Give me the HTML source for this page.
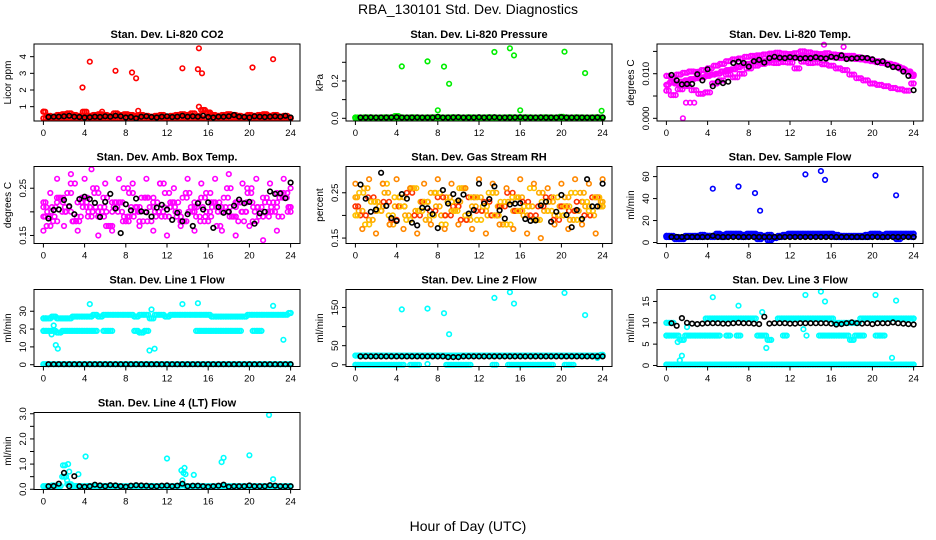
<!DOCTYPE html>
<html><head><meta charset="utf-8">
<style>
body{margin:0;background:#fff;}
svg{display:block;font-family:"Liberation Sans",Arial,sans-serif;}
</style></head>
<body>
<svg id="chart" width="936" height="540" viewBox="0 0 936 540" xmlns="http://www.w3.org/2000/svg">
<rect width="936" height="540" fill="#fff"/>
<text x="468" y="14" text-anchor="middle" font-size="14">RBA_130101  Std. Dev. Diagnostics</text>
<text x="468" y="531" text-anchor="middle" font-size="14">Hour of Day (UTC)</text>
</svg>
<script>
// ---- data (hours 0..24, evenly spaced per array) ----
const xTicks=[0,4,8,12,16,20,24];
// CO2
const co2Red1=[0.7,0.45,0.4,0.5,0.55,0.6,0.5,0.45,0.7,0.45,0.5,0.55,0.5,0.45,0.6,0.5,0.55,0.5,0.45,0.5,0.45,0.4,0.45,0.5,0.35,0.45,0.5,0.55,0.5,0.6,0.45,0.8,0.65,0.5,0.45,0.5,0.55,0.5,0.45,0.4,0.5,0.45,0.5,0.55,0.45,0.5,0.4,0.45,0.3];
const co2Red2=[0.3,0.35,0.32,0.3,0.35,0.3,0.32,0.35,0.3,0.33,0.3,0.35,0.3,0.32,0.3,0.35,0.3,0.32,0.3,0.35,0.3,0.3,0.32,0.35,0.3,0.33,0.3,0.35,0.3,0.32,0.3,0.35,0.3,0.32,0.3,0.35,0.3,0.3,0.32,0.35,0.3];
const co2Black=[null,0.38,0.4,0.4,0.42,0.45,0.4,0.38,0.35,0.37,0.4,0.38,0.42,0.4,0.45,0.42,0.35,0.38,0.3,0.4,0.42,0.38,0.35,0.4,0.42,0.38,0.4,0.45,0.4,0.42,0.4,0.45,0.38,0.35,0.4,0.4,0.42,0.5,0.4,0.38,0.35,0.42,0.4,0.38,0.4,0.42,0.4,0.45,0.35];
const co2OutX=[3.8,4.5,7,8.6,9,13.5,15,15.1,15.4,20.3,22.3,0,15.1,9.2,5.7,16.2];
const co2OutY=[2.15,3.7,3.15,3.05,2.7,3.3,3.25,4.5,3.0,3.35,3.85,0.7,1.0,0.75,0.7,0.6];
// Pressure
const prGreen1=[0.004,0.003,0.005,0.004,0.003,0.004,0.005,0.003,0.012,0.004,0.003,0.005,0.004,0.003,0.004,0.005,0.006,0.003,0.004,0.005,0.004,0.003,0.005,0.004,0.003,0.004,0.005,0.004,0.003,0.004,0.005,0.004,0.003,0.005,0.004,0.003,0.004,0.005,0.004,0.003,0.008,0.004,0.003,0.005,0.004,0.003,0.004,0.005,0.004];
const prGreen2=[0.001,0.002,0.001,0.0,0.001,0.002,0.001,0.0,0.001,0.002,0.001,0.0,0.001,0.002,0.001,0.0,0.001,0.002,0.001,0.0,0.001,0.002,0.001,0.0,0.001,0.002,0.001,0.0,0.001,0.002,0.001,0.0,0.001,0.002,0.001,0.0,0.001,0.002,0.001,0.0,0.001];
const prBlack=[null,0.004,0.004,0.005,0.004,0.004,0.004,0.005,0.006,0.004,0.004,0.004,0.005,0.004,0.004,0.004,0.008,0.004,0.004,0.005,0.006,0.004,0.004,0.004,0.006,0.004,0.005,0.006,0.004,0.004,0.004,0.005,0.006,0.004,0.004,0.004,0.005,0.004,0.004,0.004,0.006,0.004,0.004,0.004,0.004,0.004,0.004,0.005,0.004];
const prOutX=[4.5,7,8.6,9.1,8.0,13.5,15,15.4,16,20.3,22.3,23.9];
const prOutY=[0.278,0.305,0.277,0.185,0.043,0.355,0.375,0.337,0.043,0.357,0.242,0.04];
// Li-820 temp
const tpMag1=[0.0075,0.008,0.0078,0.0082,0.0085,0.0088,0.009,0.0092,0.0095,0.0098,0.01,0.0105,0.0108,0.011,0.0115,0.012,0.0122,0.0125,0.0127,0.0128,0.013,0.0132,0.0133,0.0134,0.0135,0.0136,0.0137,0.0137,0.0138,0.0138,0.0138,0.0137,0.0137,0.0136,0.0135,0.0135,0.0134,0.0133,0.0132,0.013,0.0128,0.0126,0.0124,0.0122,0.012,0.0115,0.011,0.0105,0.0095];
const tpMag2=[0.0095,0.0092,0.0098,0.0102,0.0105,0.0104,0.0108,0.0112,0.0118,0.0122,0.0128,0.0132,0.0134,0.0138,0.014,0.0141,0.0143,0.0145,0.0147,0.0145,0.0144,0.0146,0.015,0.0148,0.0145,0.0144,0.0146,0.0143,0.0142,0.014,0.014,0.0137,0.0135,0.0132,0.0128,0.0125,0.0122,0.0118,0.0112,0.0105,0.0098];
const tpMag3=[0.0062,0.0052,0.0065,0.0072,0.0063,0.0055,0.0058,0.0078,0.0085,0.0098,0.0092,0.01,0.0112,0.0118,0.0122,0.0125,0.0124,0.0126,0.0125,0.0112,0.0127,0.0124,0.0125,0.0121,0.0118,0.0112,0.0108,0.0098,0.009,0.0085,0.0078,0.0075,0.0072,0.0068,0.0065,0.0062,0.0078];
const tpBlack=[null,0.0097,0.0085,0.0076,0.0077,0.0077,0.0099,0.0085,0.011,0.0072,0.0082,0.0079,0.0082,0.0124,0.0127,0.0124,0.0116,0.0128,0.0131,0.0125,0.0135,0.0138,0.0136,0.0135,0.0137,0.0136,0.0134,0.0135,0.0135,0.0137,0.0135,0.0134,0.0138,0.0136,0.0141,0.0133,0.0134,0.0135,0.0136,0.0135,0.0132,0.0126,0.0128,0.012,0.0115,0.0114,0.0105,0.0095,0.0063];
const tpOutX=[1.6,1.9,2.3,2.7,15.3,17.2];
const tpOutY=[0.0,0.0035,0.0035,0.0035,0.0165,0.016];
// Amb box temp
const abMag1=[0.19,0.17,0.21,0.23,0.2,0.24,0.18,0.22,0.21,0.19,0.25,0.2,0.23,0.17,0.21,0.22,0.19,0.24,0.2,0.18,0.23,0.21,0.2,0.26,0.19,0.22,0.2,0.18,0.24,0.21,0.19,0.23,0.2,0.22,0.17,0.21,0.25,0.19,0.22,0.2,0.24,0.18,0.21,0.23,0.2,0.22,0.19,0.24,0.21];
const abMag2=[0.22,0.2,0.18,0.23,0.21,0.26,0.19,0.22,0.2,0.24,0.21,0.17,0.22,0.2,0.25,0.19,0.21,0.23,0.18,0.22,0.2,0.24,0.21,0.19,0.23,0.2,0.22,0.18,0.24,0.21,0.2,0.23,0.19,0.22,0.2,0.25,0.21,0.19,0.22,0.2,0.24,0.23,0.21];
const abMag3=[0.16,0.24,0.27,0.17,0.28,0.16,0.27,0.29,0.15,0.26,0.16,0.27,0.18,0.26,0.17,0.27,0.16,0.26,0.15,0.25,0.17,0.27,0.16,0.26,0.18,0.27,0.16,0.28,0.15,0.26,0.17,0.27,0.14,0.26,0.16,0.27,0.25];
const abMag4=[0.21,0.19,0.22,0.2,0.18,0.23,0.21,0.19,0.2,0.22,0.18,0.21,0.2,0.23,0.19,0.21,0.22,0.18,0.2,0.21,0.19,0.22,0.2,0.21,0.18,0.22,0.2,0.19,0.21,0.23,0.2];
const abBlack=[null,0.186,0.204,0.205,0.225,0.212,0.195,0.227,0.232,0.227,0.219,0.189,0.221,0.238,0.207,0.155,0.216,0.203,0.228,0.201,0.199,0.19,0.209,0.215,0.205,0.183,0.198,0.18,0.195,0.17,0.218,0.205,0.22,0.166,0.21,0.198,0.2,0.213,0.226,0.218,0.221,0.175,0.197,0.2,0.243,0.238,0.239,0.229,0.262];
// Gas stream RH
const rhOr1=[0.24,0.21,0.26,0.19,0.23,0.22,0.25,0.18,0.22,0.24,0.2,0.26,0.21,0.23,0.19,0.25,0.22,0.2,0.24,0.21,0.23,0.26,0.19,0.22,0.24,0.21,0.2,0.25,0.22,0.18,0.23,0.21,0.24,0.2,0.22,0.19,0.25,0.21,0.23,0.2,0.22,0.24,0.19,0.21,0.25,0.22,0.2,0.24,0.23];
const rhOr2=[0.2,0.25,0.18,0.23,0.21,0.27,0.2,0.24,0.22,0.19,0.26,0.21,0.23,0.2,0.25,0.18,0.23,0.21,0.26,0.2,0.24,0.19,0.22,0.25,0.2,0.23,0.18,0.24,0.21,0.22,0.26,0.19,0.23,0.21,0.24,0.2,0.22,0.25,0.19,0.23,0.21,0.24,0.22];
const rhOr3=[0.27,0.17,0.28,0.16,0.27,0.18,0.28,0.17,0.26,0.16,0.27,0.18,0.28,0.17,0.27,0.18,0.26,0.17,0.28,0.16,0.27,0.18,0.26,0.17,0.28,0.16,0.27,0.15,0.26,0.18,0.27,0.17,0.28,0.18,0.27,0.16,0.28];
const rhRed1=[0.22,0.2,0.24,0.21,0.23,0.19,0.22,0.25,0.2,0.23,0.21,0.24,0.2,0.22,0.19,0.24,0.21,0.23,0.2,0.22,0.25,0.21,0.23,0.2,0.22,0.24,0.19,0.22,0.21,0.23,0.2,0.24,0.22];
const rhBlack=[null,0.268,0.237,0.208,0.213,0.294,0.221,0.194,0.188,0.247,0.237,0.184,0.178,0.217,0.216,0.203,0.172,0.256,0.226,0.247,0.233,0.246,0.204,0.212,0.27,0.226,0.236,0.264,0.211,0.193,0.224,0.226,0.227,0.192,0.188,0.189,0.222,0.23,0.186,0.208,0.245,0.201,0.174,0.212,0.192,0.28,0.22,0.22,0.27];
// Sample flow
const sfBlue1=[6,6,5,4,6,6,6,7,6,6,8,7,8,8,8,7,8,8,7,6,7,5,6,7,8,8,8,8,8,8,8,8,8,7,6,6,6,6,6,7,8,8,7,8,8,8,8,8,8];
const sfBlue2=[5,5,3,3,5,5,5,5,6,5,6,5,6,6,6,5,6,6,3,5,2,4,5,6,6,6,6,6,6,6,6,6,6,5,5,5,5,5,5,5,6,6,5,6,6,3,6,6,5];
const sfBlack=[null,5,5,5,5,5,5,5,5,6,5,5,5,5,5,5,5,5,5,5,5,5,5,5,5,5,5,5,5,5,5,5,5,5,5,5,5,5,5,5,5,5,5,5,5,5,5,5,5];
const sfOutX=[4.5,7,8.6,9.1,13.5,15,15.4,20.3,22.3];
const sfOutY=[49,51,45,29,62,65,57,61,43];
// Line 1 flow
const l1Top=[26,26,27,26,26,26,27,27,27,27,28,27,28,28,28,28,28,28,27,28,28,26,28,28,27,28,28,28,28,28,28,28,28,27,27,27,27,27,27,27,28,28,28,28,28,28,28,28,29];
const l1Mid=[19,19,19,18,19,19,19,19,19,19,19,null,19,19,null,null,null,null,19,18,19,null,null,null,null,null,null,null,null,null,19,19,19,19,19,19,19,19,19,null,null,19,19,null,null,null,null,null,null];
const l1Zero=[0.3,0.3,0.3,0.3,0.3,0.3,0.3,0.3,0.3,0.3,0.3,0.3,0.3,0.3,0.3,0.3,0.3,0.3,0.3,0.3,0.3,0.3,0.3,0.3,0.3,0.3,0.3,0.3,0.3,0.3,0.3,0.3,0.3,0.3,0.3,0.3,0.3,0.3,0.3,0.3,0.3,0.3,0.3,0.3,0.3,0.3,0.3,0.3,0.3];
const l1Black=[null,0.3,0.3,0.3,0.3,0.3,0.3,0.3,0.3,0.3,0.3,0.3,0.3,0.3,0.3,0.3,0.3,0.3,0.3,0.3,0.3,0.3,0.3,0.3,0.3,0.3,0.3,0.3,0.3,0.3,0.3,0.3,0.3,0.3,0.3,0.3,0.3,0.3,0.3,0.3,0.3,0.3,0.3,0.3,0.3,0.3,0.3,0.3,0.3];
const l1OutX=[4.5,13.5,15,22.3,1,1.2,1.4,10.3,10.8,23.3,0.8,10.5,0.2];
const l1OutY=[34,34,34.5,33,22,11,9,8,9,14,17,31,26];
// Line 2 flow
const l2Top=[24,24,24,24,24,24,24,24,24,24,24,24,24,24,24,24,24,24,24,24,24,24,24,24,24,24,24,24,24,24,24,24,24,24,24,24,24,24,24,24,24,24,24,24,24,24,24,24,26];
const l2Zero=[0,0,0,0,0,0,0,0,0,0,null,0,0,null,null,null,null,null,0,0,0,0,0,null,null,null,null,0,null,null,0,0,0,0,0,0,0,0,0,null,null,0,0,null,null,null,null,null,null];
const l2Black=[null,22,22,22,22,22,22,22,22,22,22,22,22,22,22,22,22,22,20,20,20,22,22,22,22,22,22,22,22,22,22,22,22,22,22,22,22,22,22,22,22,22,22,22,22,22,22,22,22];
const l2OutX=[4.5,7,8.6,9.1,13.5,15,15.4,20.3,22.3,7,23.5];
const l2OutY=[145,147,135,80,175,190,160,188,130,2,18];
// Line 3 flow
const l3Top=[10,10,null,null,null,null,null,null,11,11,11,11,11,11,11,11,11,11,null,null,null,null,11,11,11,11,11,11,11,11,11,11,11,10,10,10,10,10,11,11,11,11,11,11,11,11,11,11,11];
const l3Mid=[7,7,7,6,7,7,7,7,7,7,7,null,7,null,7,null,null,null,7,7,6,null,null,7,null,null,null,null,null,null,7,7,7,7,7,7,6,7,7,null,null,7,7,null,null,null,null,null,null];
const l3Zero=[0.2,0.2,0.2,0.2,0.2,0.2,0.2,0.2,0.2,0.2,0.2,0.2,0.2,0.2,0.2,0.2,0.2,0.2,0.2,0.2,0.2,0.2,0.2,0.2,0.2,0.2,0.2,0.2,0.2,0.2,0.2,0.2,0.2,0.2,0.2,0.2,0.2,0.2,0.2,0.2,0.2,0.2,0.2,0.2,0.2,0.2,0.2,0.2,0.2];
const l3Black=[null,9.9,9.3,11.1,10,9.8,9.7,9.8,9.9,9.9,9.9,9.8,9.8,9.9,10,9.9,9.9,9.8,9.7,11.4,9.8,9.9,9.9,9.9,9.8,9.8,9.9,9.9,9.9,9.9,9.9,9.9,9.8,9.6,9.7,9.9,10.1,9.9,9.8,9.9,9.7,9.9,9.9,9.9,10.1,9.9,9.8,9.7,9.6];
const l3OutX=[4.5,7,9.3,13.5,15,15.4,20.3,22.3,1.3,1.5,9.7,1.1,21.9,13.6,13.3,2];
const l3OutY=[16,14,12.5,16.5,17.3,15,16.5,15.2,1.2,2.3,4.1,5.5,1.8,7,8.5,9];
// Line 4 flow
const l4Cyan=[0.12,0.12,0.15,0.13,0.5,0.2,0.13,0.12,0.12,0.13,0.12,0.12,0.13,0.12,0.13,0.12,0.12,0.12,0.13,0.12,0.12,0.13,0.12,0.12,0.12,0.12,0.13,0.15,0.12,0.12,0.13,0.12,0.12,0.12,0.12,0.13,0.12,0.12,0.12,0.12,0.12,0.12,0.12,0.12,0.12,0.12,0.12,0.12,0.12];
const l4Black=[null,0.12,0.13,0.22,0.65,0.12,0.52,0.12,0.1,0.12,0.18,0.15,0.12,0.16,0.15,0.12,0.1,0.14,0.16,0.15,0.14,0.12,0.12,0.14,0.15,0.12,0.14,0.22,0.12,0.14,0.14,0.12,0.1,0.12,0.14,0.18,0.1,0.12,0.12,0.12,0.15,0.12,0.12,0.12,0.16,0.14,0.12,0.12,0.12];
const l4OutX=[1.9,2.1,2.4,2.5,2.2,2.3,3.4,4.1,12,13.4,13.6,13.7,13.8,14.6,17.3,17.5,20,21.9,22.3,13.5];
const l4OutY=[0.95,0.95,1.0,0.7,0.5,0.35,0.6,1.3,1.22,0.75,0.65,0.85,0.6,0.57,1.08,1.25,1.35,2.95,0.4,0.35];

// ---- panel layout ----
const NS='http://www.w3.org/2000/svg';
const svg=document.getElementById('chart');
const colX=[34,346,657], rowY=[44,166.5,289.5,412.5], BW=266, BH=77;
// series: [values, colour, sub-samples per bin]
const panels=[
 {name:'co2',title:'Stan. Dev. Li-820 CO2',ylab:'Licor ppm',col:0,row:0,ylim:[0.14,4.76],ticks:[1,2,3,4],labels:['1','2','3','4'],
  series:[[co2Red1,'#ff0000',3],[co2Red2,'#ff0000',3],[co2Black,'#000',1]],out:[[co2OutX,co2OutY,'#ff0000']]},
 {name:'pressure',title:'Stan. Dev. Li-820 Pressure',ylab:'kPa',col:1,row:0,ylim:[-0.0145,0.398],ticks:[0,0.1,0.2,0.3],labels:['0.0','','0.2',''],
  series:[[prGreen1,'#00ee00',3],[prGreen2,'#00ee00',3],[prBlack,'#000',1]],out:[[prOutX,prOutY,'#00ee00']]},
 {name:'temp',title:'Stan. Dev. Li-820 Temp.',ylab:'degrees C',col:2,row:0,ylim:[-0.0006,0.01666],ticks:[0,0.005,0.01,0.015],labels:['0.000','','0.010',''],
  series:[[tpMag1,'#ff00ff',3],[tpMag2,'#ff00ff',3],[tpMag3,'#ff00ff',3],[tpBlack,'#000',1]],out:[[tpOutX,tpOutY,'#ff00ff']]},
 {name:'amb-box',title:'Stan. Dev. Amb. Box Temp.',ylab:'degrees C',col:0,row:1,ylim:[0.133,0.296],ticks:[0.15,0.2,0.25],labels:['0.15','','0.25'],
  series:[[abMag1,'#ff00ff',2],[abMag2,'#ff00ff',2],[abMag3,'#ff00ff',1],[abMag4,'#ff00ff',2],[abBlack,'#000',1]],out:[]},
 {name:'rh',title:'Stan. Dev. Gas Stream RH',ylab:'percent',col:1,row:1,ylim:[0.138,0.308],ticks:[0.15,0.2,0.25],labels:['0.15','','0.25'],
  series:[[rhOr1,'#ffaa00',2],[rhRed1,'#ff3300',2],[rhOr2,'#ffc000',2],[rhOr3,'#ff8800',1],[rhBlack,'#000',1]],out:[]},
 {name:'sample-flow',title:'Stan. Dev. Sample Flow',ylab:'ml/min',col:2,row:1,ylim:[-0.9,69.2],ticks:[0,20,40,60],labels:['0','20','40','60'],
  series:[[sfBlue1,'#0000ff',3],[sfBlue2,'#0000ff',3],[sfBlack,'#000',1]],out:[[sfOutX,sfOutY,'#0000ff']]},
 {name:'line1',title:'Stan. Dev. Line 1 Flow',ylab:'ml/min',col:0,row:2,ylim:[-1,42.2],ticks:[0,10,20,30],labels:['0','10','20','30'],
  series:[[l1Top,'#00ffff',3],[l1Mid,'#00ffff',3],[l1Zero,'#00ffff',3],[l1Black,'#000',1]],out:[[l1OutX,l1OutY,'#00ffff']]},
 {name:'line2',title:'Stan. Dev. Line 2 Flow',ylab:'ml/min',col:1,row:2,ylim:[-4.5,197],ticks:[0,50,100,150],labels:['0','50','','150'],
  series:[[l2Top,'#00ffff',3],[l2Zero,'#00ffff',3],[l2Black,'#000',1]],out:[[l2OutX,l2OutY,'#00ffff']]},
 {name:'line3',title:'Stan. Dev. Line 3 Flow',ylab:'ml/min',col:2,row:2,ylim:[-0.24,17.8],ticks:[0,5,10,15],labels:['0','5','10','15'],
  series:[[l3Top,'#00ffff',3],[l3Mid,'#00ffff',3],[l3Zero,'#00ffff',3],[l3Black,'#000',1]],out:[[l3OutX,l3OutY,'#00ffff']]},
 {name:'line4',title:'Stan. Dev. Line 4 (LT) Flow',ylab:'ml/min',col:0,row:3,ylim:[-0.01,3.05],ticks:[0,0.5,1,1.5,2,2.5,3],labels:['0.0','','1.0','','2.0','','3.0'],
  series:[[l4Cyan,'#00ffff',3],[l4Black,'#000',1]],out:[[l4OutX,l4OutY,'#00ffff']]}
];
function el(tag,attrs,parent){const e=document.createElementNS(NS,tag);for(const k in attrs)e.setAttribute(k,attrs[k]);(parent||svg).appendChild(e);return e;}
function pt(g,x,y,c){
  const p=el('circle',{cx:x.toFixed(1),cy:y.toFixed(1),r:2.3,fill:'none',stroke:c,'stroke-width':1.6},g);
  
  
}
panels.forEach(P=>{
  const x0=colX[P.col], y0=rowY[P.row];
  const xs=h=>x0+9.4+h/24*(BW-18.8);
  const ys=v=>y0+BH-(v-P.ylim[0])/(P.ylim[1]-P.ylim[0])*BH;
  const g=el('g',{});
  
  
  const t=el('text',{x:x0+BW/2,y:y0-6,'text-anchor':'middle','font-size':11,'font-weight':'bold'},g);t.textContent=P.title;
  
  
  const cy=y0+BH/2;
  const yl=el('text',{x:x0-23,y:cy,'text-anchor':'middle','font-size':10,transform:`rotate(-90 ${x0-23} ${cy})`},g);yl.textContent=P.ylab;
  
  
  const pg=el('g',{},g);
  
  
  const drawSeries=(arr,c,sub)=>{
    const step=24/(arr.length-1);
    arr.forEach((v,i)=>{
      if(v===null)return;
      for(let k=0;k<sub;k++){
        const h=Math.min(24,Math.max(0,i*step+(sub>1?(k/(sub-1)-0.5)*step*0.7:0)));
        pt(pg,xs(h),ys(v),c);
      }
    });
  };
  P.series.filter(s=>s[1]!=='#000').forEach(([arr,c,sub])=>drawSeries(arr,c,sub));
  P.out.forEach(([ox,oy,c])=>{ox.forEach((h,i)=>pt(pg,xs(h),ys(oy[i]),c));});
  P.series.filter(s=>s[1]==='#000').forEach(([arr,c,sub])=>drawSeries(arr,c,sub));
  const box=el('rect',{x:x0,y:y0,width:BW,height:BH,fill:'none',stroke:'#000','stroke-width':1},g);
  
  
  xTicks.forEach(h=>{
    const X=xs(h);
    el('line',{x1:X,x2:X,y1:y0+BH,y2:y0+BH+4,stroke:'#000'},g);
    const l=el('text',{x:X,y:y0+BH+15,'text-anchor':'middle','font-size':9.5},g);l.textContent=h;
    
    
  });
  el('line',{x1:xs(0),x2:xs(24),y1:y0+BH,y2:y0+BH,stroke:'#000'},g);
  P.ticks.forEach((v,i)=>{
    const Y=ys(v);
    el('line',{x1:x0-4,x2:x0,y1:Y,y2:Y,stroke:'#000'},g);
    if(P.labels[i]){
      const l=el('text',{x:x0-8,y:Y,'text-anchor':'middle','font-size':9.5,transform:`rotate(-90 ${x0-8} ${Y})`},g);l.textContent=P.labels[i];
      
      
    }
  });
  el('line',{x1:x0,x2:x0,y1:ys(P.ticks[0]),y2:ys(P.ticks[P.ticks.length-1]),stroke:'#000'},g);
});
</script>
</body></html>
